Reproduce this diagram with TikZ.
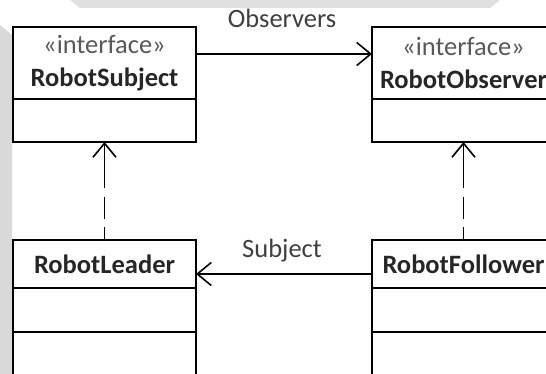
\documentclass[tikz,border=0pt]{standalone}
\usepackage{fontspec}
\setmainfont{Carlito}
\usetikzlibrary{arrows.meta}

\tikzset{
    classbox/.style={draw, line width=2pt, minimum width=183pt, inner sep=0pt, outer sep=0pt, anchor=north west},
    classname/.style={font=\fontsize{26.5}{33}\selectfont, text=black!85, align=center},
    assoc/.style={line width=1.6pt, -{Straight Barb[length=14pt,width=23pt,line width=1.6pt]}},
    realize/.style={assoc, dash pattern=on 13pt off 8pt on 22pt off 9pt on 80pt},
    lbl/.style={font=\fontsize{26.5}{30}\selectfont, text=black!75, anchor=base}
}

\begin{document}
\begin{tikzpicture}[x=1pt,y=-1pt]
    \useasboundingbox (0,0) rectangle (546,374);
    \clip (0,0) rectangle (546,374);

    % faded background
    \fill [black!12] (70,0) -- (500,0) -- (490,8) -- (80,8) -- cycle;
    \fill [black!15] (0,25) -- (12,35) -- (12,374) -- (0,374) -- cycle;

    % interfaces
    \node[classbox, classname, minimum height=72pt] (subj) at (13,27) {\textcolor{black!65}{«interface»}\\\textbf{RobotSubject}};
    \node[classbox, minimum height=43pt] (subjops) at (subj.south west) {};
    \node[classbox, classname, minimum height=72pt] (obs) at (372,27) {\textcolor{black!65}{«interface»}\\\textbf{RobotObserver}};
    \node[classbox, minimum height=43pt] (obsops) at (obs.south west) {};

    % classes
    \node[classbox, classname, minimum height=48pt] (lead) at (13,240) {\textbf{RobotLeader}};
    \node[classbox, minimum height=44pt] (leadattr) at (lead.south west) {};
    \node[classbox, minimum height=60pt] (leadops) at (leadattr.south west) {};
    \node[classbox, classname, minimum height=48pt] (fol) at (372,240) {\textbf{RobotFollower}};
    \node[classbox, minimum height=44pt] (folattr) at (fol.south west) {};
    \node[classbox, minimum height=60pt] (folops) at (folattr.south west) {};

    % associations
    \draw [assoc] ([yshift=-27pt]subj.north east) -- ([yshift=-27pt]obs.north west);
    \node[lbl] (obslbl) at (282,28) {Observers};
    \draw [assoc] ([yshift=-34pt]fol.north west) -- ([yshift=-34pt]lead.north east);
    \node[lbl] (subjlbl) at (282,257) {Subject};

    % realizations
    \draw [realize] (lead.north) -- (subjops.south);
    \draw [realize] (fol.north) -- (obsops.south);
\end{tikzpicture}
\end{document}
